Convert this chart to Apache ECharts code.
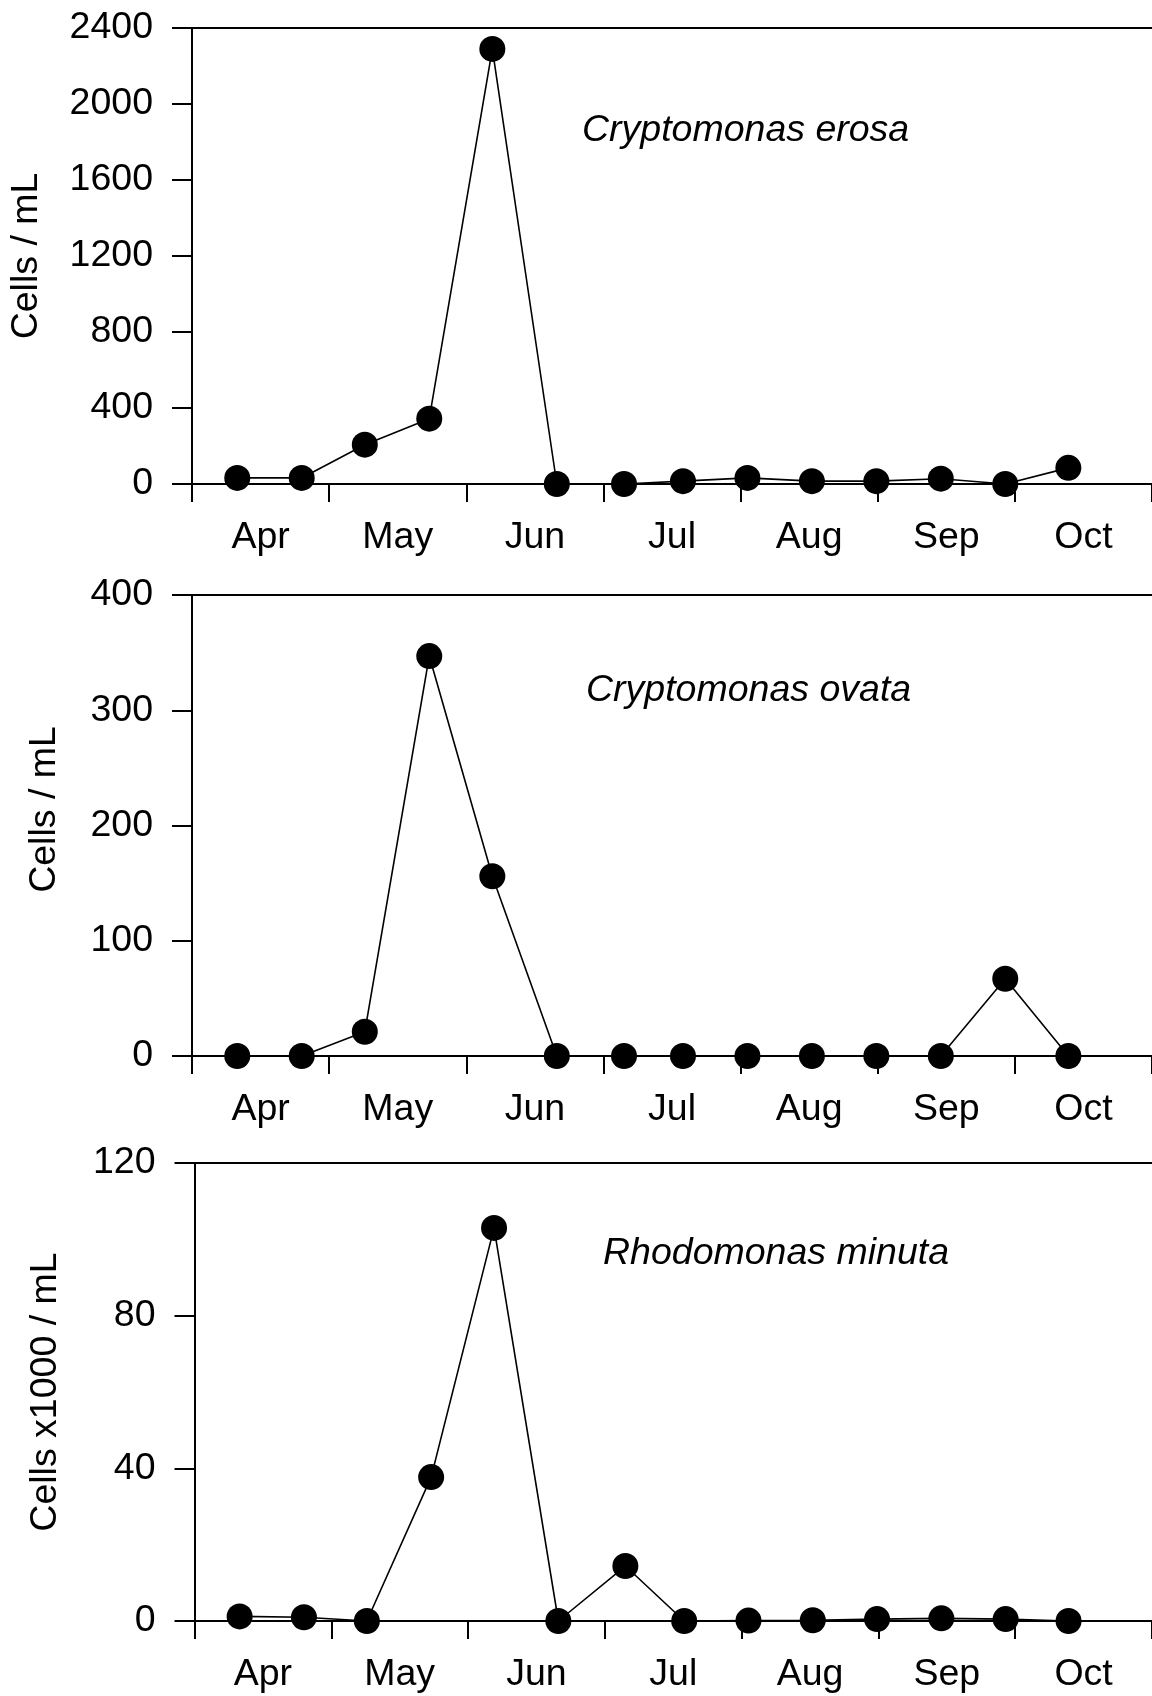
<!DOCTYPE html>
<html>
<head>
<meta charset="utf-8">
<script src="https://cdn.jsdelivr.net/npm/echarts@6/dist/echarts.min.js"></script>
<style>
html,body{margin:0;padding:0;background:#fff;}
#chart{width:1152px;height:1696px;}
</style>
</head>
<body>
<div id="chart"></div>
<script>
// Month labels (each occupies one interval between ticks)
const months = ['Apr', 'May', 'Jun', 'Jul', 'Aug', 'Sep', 'Oct'];
// Sampling times, in months since 1 April
const sampleTimes = [0.33, 0.80, 1.26, 1.73, 2.19, 2.66, 3.15, 3.58, 4.05, 4.52, 4.99, 5.46, 5.93, 6.39];
// Cells / mL
const cryptomonasErosa = [32, 32, 207, 344, 2290, 0, 0, 15, 32, 15, 15, 28, 0, 85];
// Cells / mL
const cryptomonasOvata = [0, 0, 21, 347, 156, 0, 0, 0, 0, 0, 0, 0, 67, 0];
// Cells x1000 / mL
const rhodomonasMinuta = [1.2, 1.0, 0, 37.7, 103, 0, 14.4, 0, 0.1, 0.2, 0.5, 0.7, 0.5, 0];

const speciesNames = ['Cryptomonas erosa', 'Cryptomonas ovata', 'Rhodomonas minuta'];
const yTitles = ['Cells / mL', 'Cells / mL', 'Cells x1000 / mL'];
const yMax = [2400, 400, 120];
const yInterval = [400, 100, 40];
const seriesValues = [cryptomonasErosa, cryptomonasOvata, rhodomonasMinuta];

const FONT = '"Liberation Sans", Arial, Helvetica, sans-serif';
const FS = 37.5;
const panels = [
  {left: 192, top: 28, height: 456, nameGap: 146, titleLeft: 582, titleTop: 112, namePad: [0,0,0,0]},
  {left: 192, top: 595, height: 461, nameGap: 128, titleLeft: 586, titleTop: 672, namePad: [0,0,0,32]},
  {left: 194.5, top: 1163, height: 458, nameGap: 130, titleLeft: 603, titleTop: 1235, namePad: [0,0,0,0]}
];
const MONTH_W = 137.7;

const grid = [], xAxis = [], yAxis = [], series = [], title = [];
panels.forEach((p, i) => {
  grid.push({left: p.left, top: p.top, height: p.height, width: MONTH_W * months.length, containLabel: false});
  // value axis carrying the data and month tick marks
  xAxis.push({
    type: 'value', gridIndex: i, min: 0, max: months.length, interval: 1, position: 'bottom',
    axisLine: {show: true, onZero: false, lineStyle: {color: '#000', width: 2}},
    axisTick: {show: true, length: 18, lineStyle: {color: '#000', width: 2}},
    axisLabel: {show: false}, splitLine: {show: false}
  });
  // category axis for centred month labels
  xAxis.push({
    type: 'category', gridIndex: i, data: months, boundaryGap: true, position: 'bottom',
    axisLine: {show: false}, axisTick: {show: false}, splitLine: {show: false},
    axisLabel: {show: true, color: '#000', fontSize: FS, fontFamily: FONT, margin: 35, interval: 0}
  });
  // top frame line
  xAxis.push({
    type: 'value', gridIndex: i, min: 0, max: months.length, position: 'top',
    axisLine: {show: true, onZero: false, lineStyle: {color: '#000', width: 2}},
    axisTick: {show: false}, axisLabel: {show: false}, splitLine: {show: false}
  });
  yAxis.push({
    type: 'value', gridIndex: i, min: 0, max: yMax[i], interval: yInterval[i],
    name: yTitles[i], nameLocation: 'middle', nameGap: p.nameGap, nameRotate: 90,
    nameTextStyle: {color: '#000', fontSize: FS, fontFamily: FONT, padding: p.namePad},
    axisLine: {show: true, onZero: false, lineStyle: {color: '#000', width: 2}},
    axisTick: {show: true, length: 20, lineStyle: {color: '#000', width: 2}},
    axisLabel: {color: '#000', fontSize: FS, fontFamily: FONT, margin: 39, formatter: v => String(v)},
    splitLine: {show: false}
  });
  series.push({
    type: 'line', xAxisIndex: i * 3, yAxisIndex: i,
    data: sampleTimes.map((t, k) => [t, seriesValues[i][k]]),
    symbol: 'circle', symbolSize: 26, showSymbol: true,
    itemStyle: {color: '#000'}, lineStyle: {color: '#000', width: 1.6},
    clip: false, animation: false, z: 5
  });
  title.push({
    text: speciesNames[i], left: p.titleLeft, top: p.titleTop, padding: 0,
    textStyle: {color: '#000', fontSize: FS, fontFamily: FONT, fontStyle: 'italic', fontWeight: 'normal'}
  });
});

const chart = echarts.init(document.getElementById('chart'), null, {renderer: 'canvas'});
chart.setOption({backgroundColor: '#fff', animation: false, title, grid, xAxis, yAxis, series});
</script>
</body>
</html>
